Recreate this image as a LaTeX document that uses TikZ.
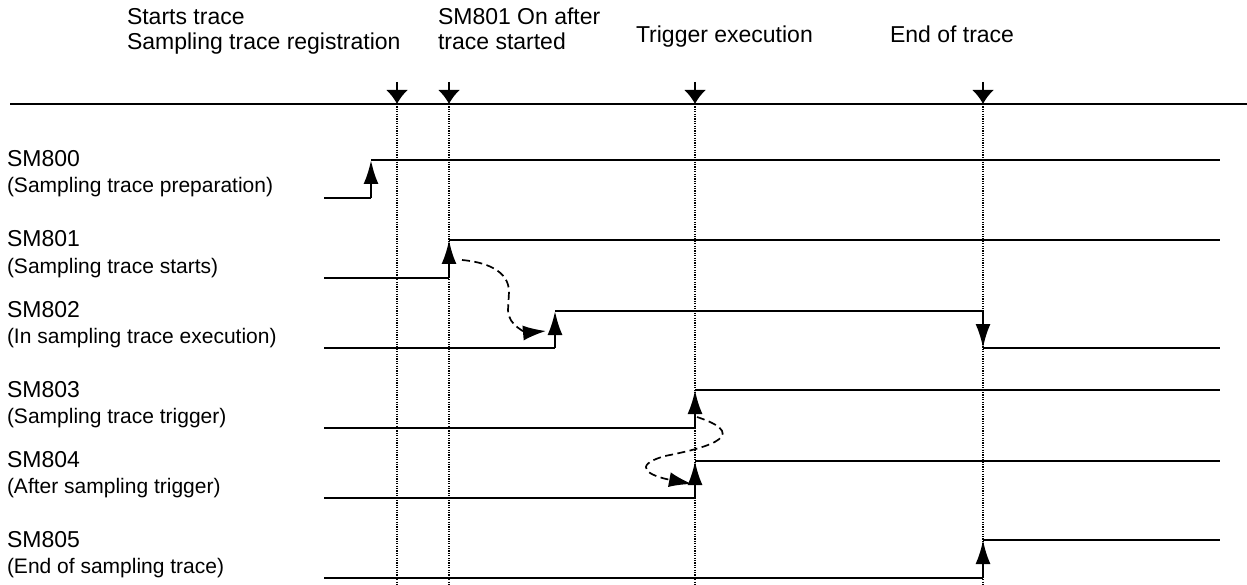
\documentclass[tikz,border=0pt]{standalone}
\usepackage{fontspec}
\setmainfont{Liberation Sans}
\usetikzlibrary{arrows.meta, positioning}
\tikzstyle{every node}=[inner sep=0pt, outer sep=0pt, anchor=base west]
\tikzstyle{lbl}=[font=\fontsize{23}{25}\selectfont]
\tikzstyle{desc}=[font=\fontsize{21}{24}\selectfont]
\tikzstyle{sig}=[line width=1.8pt]
\tikzstyle{edge}=[line width=2.6pt, -{Latex[length=24pt,width=15pt]}]
\tikzstyle{event}=[line width=2pt, -{Latex[length=14pt,width=22pt]}]
\tikzstyle{guide}=[line width=1.2pt, dash pattern=on 1.2pt off 1.2pt]
\tikzstyle{cause}=[line width=1.7pt, dash pattern=on 8pt off 4.5pt, -{Latex[length=23pt,width=15pt]}]

\begin{document}
\begin{tikzpicture}[x=1pt, y=-1pt]
  \useasboundingbox (0,0) rectangle (1247,585);

  % events on the time line
  \node[lbl] (start) at (127,25) {Starts trace};
  \node[lbl] (regist) at (127,50) {Sampling trace registration};
  \node[lbl] (on) at (438,25) {SM801 On after};
  \node[lbl] (started) at (438,50) {trace started};
  \node[lbl] (trig) at (636,43) {Trigger execution};
  \node[lbl] (end) at (890,43) {End of trace};

  \coordinate (tl) at (10,104);
  \coordinate (tr) at (1247,104);
  \draw[line width=2pt] (tl) -- (tr);
  \foreach \x in {397,449,695,983} {
    \draw[guide] (\x,104) -- (\x,585);
    \draw[event] (\x,82) -- (\x,104);
  }

  % labels
  \node[lbl] (sm0) at (7,167) {SM800};
  \node[desc] (sm0d) at (7,193) {(Sampling trace preparation)};
  \node[lbl] (sm1) at (7,247) {SM801};
  \node[desc] (sm1d) at (7,273) {(Sampling trace starts)};
  \node[lbl] (sm2) at (7,317) {SM802};
  \node[desc] (sm2d) at (7,343) {(In sampling trace execution)};
  \node[lbl] (sm3) at (7,397) {SM803};
  \node[desc] (sm3d) at (7,423) {(Sampling trace trigger)};
  \node[lbl] (sm4) at (7,467) {SM804};
  \node[desc] (sm4d) at (7,493) {(After sampling trigger)};
  \node[lbl] (sm5) at (7,547) {SM805};
  \node[desc] (sm5d) at (7,573) {(End of sampling trace)};

  % signals
  \draw[sig] (324,198) -- (371,198);
  \draw[edge] (371,198) -- (371,160);
  \draw[sig] (371,160) -- (1220,160);

  \draw[sig] (324,278) -- (449,278);
  \draw[edge] (449,278) -- (449,240);
  \draw[sig] (449,240) -- (1220,240);

  \draw[sig] (324,348) -- (555,348);
  \draw[edge] (555,348) -- (555,311);
  \draw[sig] (555,311) -- (983,311);
  \draw[edge] (983,311) -- (983,348);
  \draw[sig] (983,348) -- (1220,348);

  \draw[sig] (324,428) -- (695,428);
  \draw[edge] (695,428) -- (695,390);
  \draw[sig] (695,390) -- (1220,390);

  \draw[sig] (324,498) -- (695,498);
  \draw[edge] (695,498) -- (695,461);
  \draw[sig] (695,461) -- (1220,461);

  \draw[sig] (324,578) -- (983,578);
  \draw[edge] (983,578) -- (983,540);
  \draw[sig] (983,540) -- (1220,540);

  % causes
  \coordinate (c1) at (462,260);
  \coordinate (c2) at (546,331);
  \draw[cause] (c1) to[out=-5,in=90] (509,292) -- (508,310) to[out=-90,in=185] (c2);
  \coordinate (c3) at (697,417);
  \coordinate (c4) at (692,484);
  \draw[cause] (c3) .. controls (758,437) and (695,450) .. (665,456)
    .. controls (630,466) and (650,476) .. (c4);
\end{tikzpicture}
\end{document}
